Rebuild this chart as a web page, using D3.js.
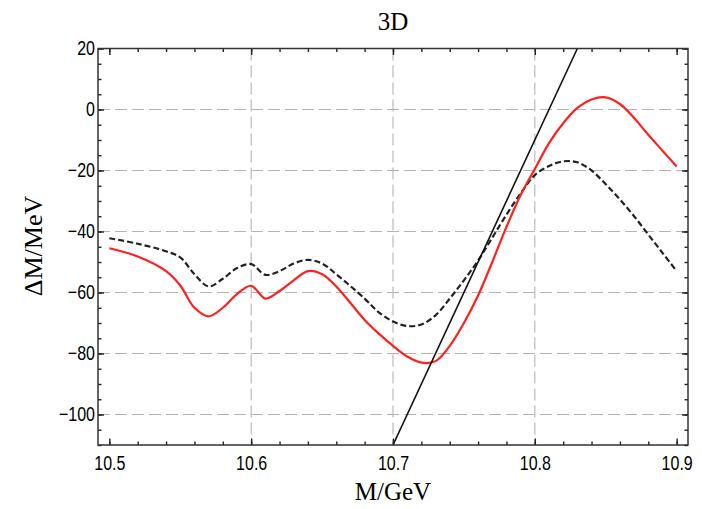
<!DOCTYPE html>
<html>
<head>
<meta charset="utf-8">
<script src="https://cdn.jsdelivr.net/npm/d3@7"></script>
<style>
  body { margin: 0; background: #fff; }
  svg { display: block; }
</style>
</head>
<body>
<svg id="chart" width="702" height="509"></svg>
<script>
// M in GeV, Delta M in MeV
var massRed = [10.5, 10.52, 10.54, 10.55, 10.56, 10.57, 10.58, 10.59, 10.6, 10.61, 10.62, 10.63, 10.64, 10.65, 10.66,
  10.68, 10.69, 10.7, 10.71, 10.72, 10.73, 10.74, 10.75, 10.76, 10.77, 10.78, 10.79, 10.8, 10.81, 10.82,
  10.83, 10.84, 10.85, 10.86, 10.87, 10.88, 10.89, 10.9]
var deltaRed = [-45.5, -48.2, -53, -57.7, -65, -67.8, -65, -60.5, -57.8, -62, -59.5, -56, -53, -54, -58,
  -69, -73.5, -77.5, -81, -83, -82.5, -77.5, -70, -61, -50, -38.5, -28, -19.5, -11, -4.5,
  0.5, 3.3, 4, 1.8, -2.8, -8.3, -13.5, -18.7]

var massDash = [10.5, 10.52, 10.54, 10.55, 10.56, 10.57, 10.58, 10.59, 10.6, 10.61, 10.62, 10.63, 10.64, 10.65, 10.66,
  10.68, 10.69, 10.7, 10.71, 10.72, 10.73, 10.74, 10.75, 10.76, 10.77, 10.78, 10.79, 10.8, 10.81, 10.82,
  10.83, 10.84, 10.85, 10.86, 10.87, 10.88, 10.89, 10.9]
var deltaDash = [-42.2, -44, -46.5, -48.5, -54, -58, -55.5, -52, -50.7, -54.2, -53, -50.5, -49.3, -50.5, -54,
  -62, -66.5, -69.5, -71, -70.5, -67.5, -62, -56, -49.5, -42, -34.5, -27.5, -21.5, -18.5, -17,
  -17.3, -20, -24.5, -29.5, -35, -41, -47, -53]

// straight threshold line
var massLine = [10.7, 10.83]
var deltaLine = [-110, 20]

var xTicks = [10.5, 10.6, 10.7, 10.8, 10.9]
var yTicks = [20, 0, -20, -40, -60, -80, -100]
var xGrid = [10.6, 10.7, 10.8]
var yGrid = [0, -20, -40, -60, -80, -100]

var frame = { l: 98, r: 688, t: 48.5, b: 445 }

var svg = d3.select('#chart')
var x = d3.scaleLinear().domain([10.492, 10.908]).range([frame.l, frame.r])
var y = d3.scaleLinear().domain([-110, 20]).range([frame.b, frame.t])

var xMinor = d3.range(10.5, 10.9001, 0.02)
var yMinor = d3.range(-110, 20.001, 5)

// grid
svg.append('g').selectAll('line').data(xGrid).enter().append('line')
  .attr('x1', d => x(d)).attr('x2', d => x(d)).attr('y1', frame.t).attr('y2', frame.b)
  .attr('stroke', '#b4b4b4').attr('stroke-width', 1.1).attr('stroke-dasharray', '12,5')
svg.append('g').selectAll('line').data(yGrid).enter().append('line')
  .attr('y1', d => y(d)).attr('y2', d => y(d)).attr('x1', frame.l).attr('x2', frame.r)
  .attr('stroke', '#b4b4b4').attr('stroke-width', 1.1).attr('stroke-dasharray', '12,5')

// curves
svg.append('clipPath').attr('id', 'clip').append('rect')
  .attr('x', frame.l).attr('y', frame.t).attr('width', frame.r - frame.l).attr('height', frame.b - frame.t)
var plot = svg.append('g').attr('clip-path', 'url(#clip)')

var line = d3.line().x(d => x(d[0])).y(d => y(d[1])).curve(d3.curveCatmullRom.alpha(0.5))

plot.append('path').datum(d3.zip(massDash, deltaDash))
  .attr('d', line).attr('fill', 'none').attr('stroke', '#222')
  .attr('stroke-width', 2.2).attr('stroke-dasharray', '6,3')

plot.append('path').datum(d3.zip(massRed, deltaRed))
  .attr('d', line).attr('fill', 'none').attr('stroke', '#ff2020').attr('stroke-width', 2.2)

plot.append('path').datum(d3.zip(massLine, deltaLine))
  .attr('d', d3.line().x(d => x(d[0])).y(d => y(d[1])))
  .attr('fill', 'none').attr('stroke', '#111').attr('stroke-width', 1.6)

// frame + ticks
function ticks(axis, pos) {
  var g = svg.append('g').attr('transform', pos).call(axis)
  g.select('.domain').remove()
  g.selectAll('line').attr('stroke', '#222').attr('stroke-width', 1.4)
  return g
}
// narrow look of the tick labels
function narrow(sel) {
  sel.attr('font-family', '"Liberation Sans", Arial, sans-serif').attr('font-size', 20).attr('fill', '#000')
  sel.each(function () {
    var w = this.getComputedTextLength()
    d3.select(this).attr('textLength', w * 0.8).attr('lengthAdjust', 'spacingAndGlyphs')
  })
}

ticks(d3.axisBottom(x).tickValues(xMinor).tickSize(-3.5).tickFormat(''), 'translate(0,' + frame.b + ')')
ticks(d3.axisTop(x).tickValues(xMinor).tickSize(-3.5).tickFormat(''), 'translate(0,' + frame.t + ')')
ticks(d3.axisTop(x).tickValues(xTicks).tickSize(-6.5).tickFormat(''), 'translate(0,' + frame.t + ')')
var xb = ticks(d3.axisBottom(x).tickValues(xTicks).tickSize(-6.5).tickPadding(25).tickFormat(d3.format('.1f')),
  'translate(0,' + frame.b + ')')
xb.selectAll('text').attr('dy', 0).call(narrow)

ticks(d3.axisLeft(y).tickValues(yMinor).tickSize(-3.5).tickFormat(''), 'translate(' + frame.l + ',0)')
ticks(d3.axisRight(y).tickValues(yMinor).tickSize(-3.5).tickFormat(''), 'translate(' + frame.r + ',0)')
ticks(d3.axisRight(y).tickValues(yTicks).tickSize(-6).tickFormat(''), 'translate(' + frame.r + ',0)')
var yl = ticks(d3.axisLeft(y).tickValues(yTicks).tickSize(-6).tickPadding(3).tickFormat(d => d < 0 ? '\u2212' + (-d) : d),
  'translate(' + frame.l + ',0)')
yl.selectAll('text').call(narrow)

svg.append('rect').attr('x', frame.l).attr('y', frame.t).attr('width', frame.r - frame.l).attr('height', frame.b - frame.t)
  .attr('fill', 'none').attr('stroke', '#333').attr('stroke-width', 1.5)

// texts
var serif = '"Liberation Serif", "Times New Roman", serif'
svg.append('text').attr('x', 393).attr('y', 30).attr('text-anchor', 'middle')
  .attr('font-family', serif).attr('font-size', 25).text('3D')
svg.append('text').attr('x', 393).attr('y', 500).attr('text-anchor', 'middle')
  .attr('font-family', serif).attr('font-size', 25).text('M/GeV')
svg.append('text').attr('transform', 'translate(42,246) rotate(-90)').attr('text-anchor', 'middle')
  .attr('font-family', serif).attr('font-size', 26).text('\u0394M/MeV')
</script>
</body>
</html>
